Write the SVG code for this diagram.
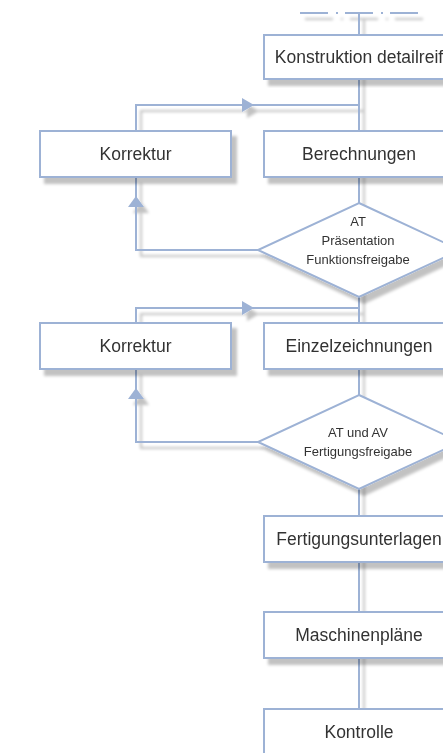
<svg xmlns="http://www.w3.org/2000/svg" width="443" height="753" viewBox="0 0 443 753">
<style>
.s{fill:none;stroke:#9db2d5;stroke-width:2}
.b{fill:#fff;stroke:#9db2d5;stroke-width:2}
.a{fill:#9db2d5}
.t{font-family:"Liberation Sans",Arial,sans-serif;font-size:17.5px;fill:#333;text-anchor:middle}
.d{font-family:"Liberation Sans",Arial,sans-serif;font-size:13px;fill:#333;text-anchor:middle}
</style>
<defs>
<filter id="sh" x="-20%" y="-20%" width="140%" height="140%">
<feDropShadow dx="5" dy="6" stdDeviation="1.8" flood-color="#000" flood-opacity="0.24"/>
</filter>
</defs>
<rect width="443" height="753" fill="#fff"/>
<g id="connectors" filter="url(#sh)">
<path class="s" d="M300 13H328M336 13H338M345 13H373M381 13H383M390 13H418"/>
<path class="s" d="M359 13V720"/>
<path class="s" d="M136 131V105H359"/>
<path class="s" d="M258 250H136V177"/>
<path class="s" d="M136 323V308H359"/>
<path class="s" d="M258 442H136V369"/>
<polygon class="a" points="242,98 254,105 242,112"/>
<polygon class="a" points="128,207 136,196 144,207"/>
<polygon class="a" points="242,301 254,308 242,315"/>
<polygon class="a" points="128,399 136,388 144,399"/>
</g>
<g id="n1" filter="url(#sh)"><rect class="b" x="264" y="35" width="190" height="44"/><text class="t" x="359" y="63">Konstruktion detailreif</text></g>
<g id="n2" filter="url(#sh)"><rect class="b" x="40" y="131" width="191" height="46"/><text class="t" x="135.5" y="160">Korrektur</text></g>
<g id="n3" filter="url(#sh)"><rect class="b" x="264" y="131" width="190" height="46"/><text class="t" x="359" y="160">Berechnungen</text></g>
<g id="n4" filter="url(#sh)"><polygon class="b" points="359,203 460,250 359,297 258,250"/><text class="d" x="358" y="226">AT</text><text class="d" x="358" y="245">Präsentation</text><text class="d" x="358" y="264">Funktionsfreigabe</text></g>
<g id="n5" filter="url(#sh)"><rect class="b" x="40" y="323" width="191" height="46"/><text class="t" x="135.5" y="352">Korrektur</text></g>
<g id="n6" filter="url(#sh)"><rect class="b" x="264" y="323" width="190" height="46"/><text class="t" x="359" y="352">Einzelzeichnungen</text></g>
<g id="n7" filter="url(#sh)"><polygon class="b" points="359,395 460,442 359,489 258,442"/><text class="d" x="358" y="437">AT und AV</text><text class="d" x="358" y="456">Fertigungsfreigabe</text></g>
<g id="n8" filter="url(#sh)"><rect class="b" x="264" y="516" width="190" height="46"/><text class="t" x="359" y="545">Fertigungsunterlagen</text></g>
<g id="n9" filter="url(#sh)"><rect class="b" x="264" y="612" width="190" height="46"/><text class="t" x="359" y="641">Maschinenpläne</text></g>
<g id="n10" filter="url(#sh)"><rect class="b" x="264" y="709" width="190" height="50"/><text class="t" x="359" y="738">Kontrolle</text></g>
</svg>
